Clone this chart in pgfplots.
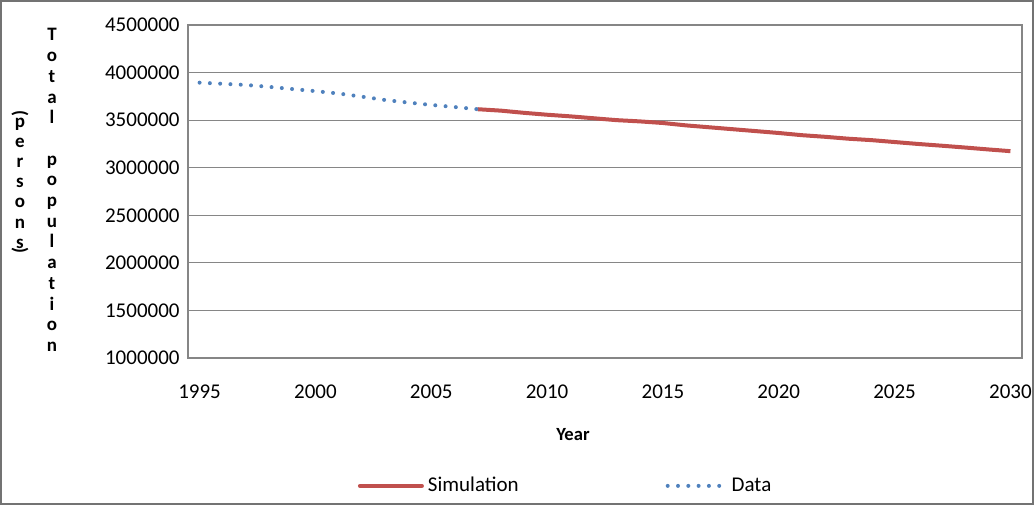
\documentclass[border=0pt]{standalone}
\usepackage{pgfplots}
\pgfplotsset{compat=1.18}
\usepackage{fontspec}
\setmainfont{Carlito}
\definecolor{simred}{HTML}{C0504D}
\definecolor{datablue}{HTML}{4F81BD}
\definecolor{gridgray}{HTML}{868686}
\begin{document}
\begin{tikzpicture}
\useasboundingbox (0,0) rectangle (517pt,252.5pt);
\draw[black!55, line width=0.8pt] (0.4pt,0.4pt) rectangle (516.6pt,252.1pt);
\begin{axis}[
  at={(94pt,73.5pt)}, anchor=south west,
  scale only axis, width=417pt, height=166.5pt,
  xmin=1994.5, xmax=2030.5, ymin=1000000, ymax=4500000,
  xtick={1995,2000,...,2030},
  ytick={1000000,1500000,2000000,2500000,3000000,3500000,4000000,4500000},
  ymajorgrids,
  major grid style={gridgray, line width=0.6pt},
  axis line style={gridgray, line width=0.6pt},
  tick style={draw=none},
  scaled y ticks=false,
  /pgf/number format/assume math mode=true,
  /pgf/number format/.cd, fixed, precision=0, 1000 sep={}, /pgfplots/.cd,
  ticklabel style={font=\fontsize{10.5}{12}\selectfont, text=black},
  yticklabel style={anchor=east, inner sep=0pt, xshift=-4pt},
  xticklabel style={anchor=north, inner sep=0pt, yshift=-13pt},
  xlabel={Year},
  xlabel style={font=\bfseries\fontsize{9.3}{11}\selectfont, at={(axis description cs:0.4616,0)}, anchor=center, yshift=-38.5pt},
  legend columns=2,
  legend style={draw=none, fill=none, at={(0.454,-0.384)}, anchor=center,
    font=\fontsize{10.5}{12}\selectfont, inner sep=0pt,
    /tikz/every even column/.append style={column sep=71.5pt}},
  legend cell align=left,
]
\addplot[simred, line width=2pt, line join=round,
  legend image code/.code={\draw[simred, line width=2pt, line cap=round] (0pt,0pt) -- (31pt,0pt);}]
  coordinates {
  (2007,3615000) (2008,3600000) (2009,3577000) (2010,3557000) (2011,3540000)
  (2012,3520000) (2013,3500000) (2014,3487000) (2015,3470000) (2016,3445000)
  (2017,3425000) (2018,3405000) (2019,3385000) (2020,3365000) (2021,3342000)
  (2022,3325000) (2023,3305000) (2024,3290000) (2025,3270000) (2026,3250000)
  (2027,3232000) (2028,3213000) (2029,3193000) (2030,3174000)};
\addlegendentry{Simulation}
\addplot[datablue, line width=2pt, line cap=round, dash pattern=on 0pt off 5.15pt,
  legend image code/.code={\draw[datablue, line width=2pt, line cap=round, dash pattern=on 0pt off 5.15pt] (1pt,0pt) -- (30pt,0pt);}]
  coordinates {
  (1995,3894000) (1996,3882000) (1997,3870000) (1998,3850000) (1999,3827000)
  (2000,3805000) (2001,3780000) (2002,3747000) (2003,3712000) (2004,3685000)
  (2005,3660000) (2006,3638000) (2007,3615000)};
\addlegendentry{Data}
\end{axis}
\node[align=center, inner sep=0pt, font=\bfseries\fontsize{9.5}{10.35}\selectfont] at (26pt,157.5pt)
  {T\\o\\t\\a\\l\\\mbox{}\\p\\o\\p\\u\\l\\a\\t\\i\\o\\n};
\node[align=center, inner sep=0pt, font=\bfseries\fontsize{9.5}{10.1}\selectfont] at (10pt,161pt)
  {p\\e\\r\\s\\o\\n\\s};
\node[rotate=-90, inner sep=0pt, font=\bfseries\fontsize{9.5}{10}\selectfont] at (10pt,196pt) {(};
\node[rotate=-90, inner sep=0pt, font=\bfseries\fontsize{9.5}{10}\selectfont] at (10pt,127.5pt) {)};
\end{tikzpicture}
\end{document}
